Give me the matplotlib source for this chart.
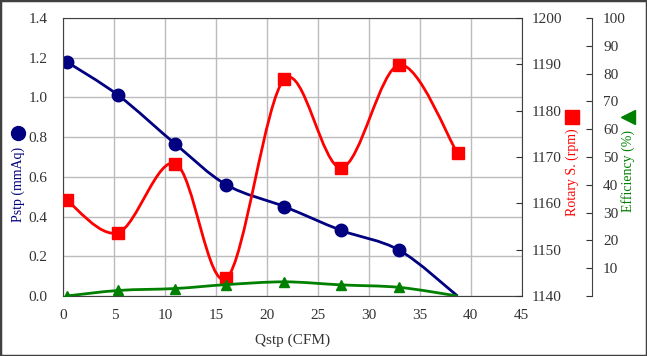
import numpy as np
import matplotlib.pyplot as plt
from matplotlib.path import Path
from matplotlib.patches import PathPatch, Rectangle
from matplotlib.lines import Line2D

plt.rcParams['font.family'] = ['Liberation Serif', 'DejaVu Sans']
plt.rcParams['font.size'] = 11

# data
qstp = [0.3, 5.4, 11.0, 16.0, 21.7, 27.3, 33.0, 38.7]
pstp = [1.18, 1.01, 0.765, 0.56, 0.45, 0.33, 0.23, 0.0]
rpm = [1160.7, 1153.7, 1168.6, 1143.8, 1186.8, 1167.7, 1189.9, 1170.8]
eff = [0.0, 2.0, 2.7, 4.1, 5.1, 4.0, 3.1, 0.0]

x_ticks = list(range(0, 50, 5))
p_ticks = [0.0, 0.2, 0.4, 0.6, 0.8, 1.0, 1.2, 1.4]
r_ticks = list(range(1140, 1210, 10))
e_ticks = list(range(0, 110, 10))

NAVY, RED, GREEN = '#000080', '#ff0000', '#008000'
GREY = '#404040'


def smooth_path(xs, ys):
    # excel-like smoothed line drawn as bezier segments through the points
    pts = np.column_stack([xs, ys]).astype(float)
    n = len(pts)
    verts, codes = [pts[0]], [Path.MOVETO]
    for i in range(n - 1):
        p0, p1 = pts[max(i - 1, 0)], pts[i]
        p2, p3 = pts[i + 1], pts[min(i + 2, n - 1)]
        verts += [p1 + (p2 - p0) / 6, p2 - (p3 - p1) / 6, p2]
        codes += [Path.CURVE4] * 3
    return Path(verts, codes)


fig = plt.figure(figsize=(6.47, 3.56), dpi=100)
ax = fig.add_axes([0.0981, 0.1685, 0.7082, 0.7809])
ax2 = ax.twinx()
ax3 = ax.twinx()

# Pstp
ax.add_patch(PathPatch(smooth_path(qstp, pstp), fill=False, ec=NAVY, lw=2))
ax.plot(qstp[:-1], pstp[:-1], 'o', color=NAVY, ms=9, ls='none')
ax.set_xlim(0, 45)
ax.set_ylim(0, 1.4)
ax.set_xticks(x_ticks)
ax.set_yticks(p_ticks)
ax.set_yticklabels([f"{v:.1f}" for v in p_ticks])
ax.grid(True, color='#bcbcbc', lw=1)
ax.set_axisbelow(True)
ax.tick_params(axis='y', length=0, colors='#333333', pad=11.5)
ax.tick_params(axis='x', length=0, colors='#333333', pad=9)
ax.set_xlabel("Qstp (CFM)", color='#333333', labelpad=9)
for s in ax.spines.values():
    s.set_color(GREY)

# rotary speed
ax2.add_patch(PathPatch(smooth_path(qstp, rpm), fill=False, ec=RED, lw=2))
ax2.plot(qstp, rpm, 's', color=RED, ms=8, ls='none')
ax2.set_ylim(1140, 1200)
ax2.set_yticks(r_ticks)
ax2.tick_params(direction='in', length=4, colors='#333333', pad=7)
for s in ax2.spines.values():
    s.set_visible(False)

# efficiency
ax3.add_patch(PathPatch(smooth_path(qstp, eff), fill=False, ec=GREEN, lw=2))
ax3.plot(qstp[:-1], eff[:-1], '^', color=GREEN, ms=7.5, ls='none')
ax3.set_ylim(0, 100)
ax3.set_yticks(e_ticks)
ax3.set_yticklabels([''] + [str(v) for v in e_ticks[1:]])
ax3.spines['right'].set_position(('axes', 1.1534))
ax3.spines['right'].set_color(GREY)
for side in ['left', 'top', 'bottom']:
    ax3.spines[side].set_visible(False)
ax3.tick_params(direction='in', length=4, colors='#333333', pad=8)

# axis titles with their series symbols
fig.text(0.0278, 0.483, "Pstp (mmAq)", rotation=90, color=NAVY,
         ha='center', va='center', fontsize=10)
fig.text(0.884, 0.517, "Rotary S. (rpm)", rotation=90, color=RED,
         ha='center', va='center', fontsize=10)
fig.text(0.971, 0.52, "Efficiency (%)", rotation=90, color=GREEN,
         ha='center', va='center', fontsize=10)
for x, y, m, c, s in [(0.0278, 0.626, 'o', NAVY, 10),
                      (0.884, 0.671, 's', RED, 9.5),
                      (0.971, 0.671, '<', GREEN, 9.5)]:
    fig.add_artist(Line2D([x], [y], marker=m, color=c, ms=s, ls='none',
                          transform=fig.transFigure))

fig.patches.append(Rectangle((0, 0), 1, 1, transform=fig.transFigure,
                             fill=False, ec=GREY, lw=2.5))

fig.savefig("out.png", dpi=100)
